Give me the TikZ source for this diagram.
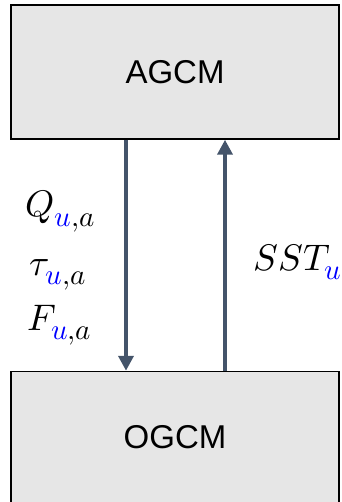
\documentclass[tikz,border=0pt]{standalone}
\usepackage{fontspec}
\usepackage{unicode-math}
\setmainfont{Liberation Sans}
\setmathfont{Latin Modern Math}
\DeclareMathSizes{37}{37}{29}{22}
\usepackage{tikz}
\usetikzlibrary{arrows.meta,positioning}
\definecolor{BoxFill}{HTML}{E6E6E6}
\definecolor{FlowCol}{HTML}{44546A}
\definecolor{SubCol}{HTML}{0000FF}
\newcommand{\ix}[1]{_{\textcolor{SubCol}{u}#1}}
\begin{document}
\begin{tikzpicture}[x=1pt,y=-1pt,
    model/.style={draw=black,line width=1.5pt,fill=BoxFill,minimum width=328pt,
      font=\fontsize{33}{40}\selectfont},
    flow/.style={FlowCol,line width=4.5pt,-{Triangle[length=15pt,width=15pt]}},
    lab/.style={anchor=base west,font=\fontsize{37}{40}\selectfont}]
  \useasboundingbox (0,0) rectangle (341,502);
  \node[model,minimum height=134pt] (agcm) at (175,72) {AGCM};
  \node[model,minimum height=131pt] (ogcm) at (175,437) {OGCM};
  \draw[flow] ([xshift=-49pt]agcm.south) -- ([xshift=-49pt]agcm.south |- ogcm.north);
  \draw[flow] ([xshift=50pt]ogcm.north) -- ([xshift=50pt]ogcm.north |- agcm.south);
  % fluxes
  \node[lab] (qflux) at (22,217) {$Q\ix{,a}$};
  \node[lab] (tflux) at (26,275) {$\tau\ix{,a}$};
  \node[lab] (fflux) at (24,330) {$F\ix{,a}$};
  \node[lab] (sst) at (250,270) {$SST\ix{}$};
\end{tikzpicture}
\end{document}
